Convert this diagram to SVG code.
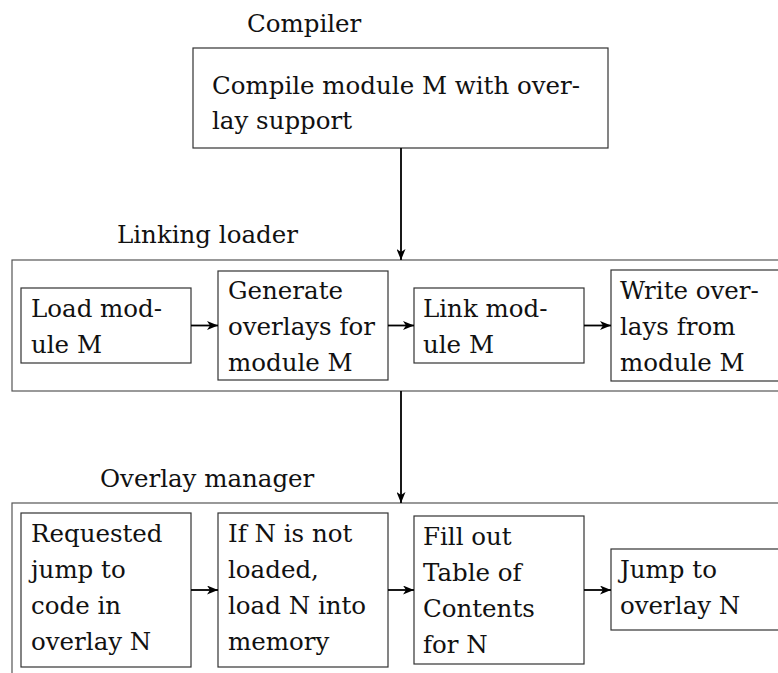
<svg xmlns="http://www.w3.org/2000/svg" width="778" height="673" viewBox="0 0 778 673">
<style>
text{font-family:"DejaVu Serif","Liberation Serif",serif;font-size:24.5px;fill:#111}
.box{fill:#fff;stroke:#333;stroke-width:1.2}
.outer{fill:none;stroke:#555;stroke-width:1.2}
.conn{stroke:#000;stroke-width:1.8;fill:none;marker-end:url(#ah)}
</style>
<defs>
<marker id="ah" viewBox="0 0 11 9" refX="11" refY="4.5" markerWidth="11" markerHeight="9" markerUnits="userSpaceOnUse" orient="auto">
<path d="M0,0 L11,4.5 L0,9 L3,4.5 Z" fill="#000"/>
</marker>
</defs>
<rect class="outer" x="12" y="260" width="800" height="131"/>
<rect class="outer" x="12" y="503" width="800" height="200"/>
<g id="label-compiler"><text x="247" y="32">Compiler</text></g>
<g id="label-linking"><text x="117" y="243">Linking loader</text></g>
<g id="label-overlay"><text x="100" y="487">Overlay manager</text></g>
<g id="compile">
<rect class="box" x="193" y="48" width="415" height="100"/>
<text x="212" y="94">Compile module M with over-</text>
<text x="212" y="129">lay support</text>
</g>
<g id="load">
<rect class="box" x="21" y="288" width="170" height="75"/>
<text x="31" y="317">Load mod-</text>
<text x="31" y="353">ule M</text>
</g>
<g id="generate">
<rect class="box" x="218" y="271" width="170" height="109"/>
<text x="228" y="299">Generate</text>
<text x="228" y="335">overlays for</text>
<text x="228" y="371">module M</text>
</g>
<g id="link">
<rect class="box" x="414" y="288" width="170" height="75"/>
<text x="423" y="317">Link mod-</text>
<text x="423" y="353">ule M</text>
</g>
<g id="write">
<rect class="box" x="611" y="270" width="200" height="111"/>
<text x="620" y="299">Write over-</text>
<text x="620" y="335">lays from</text>
<text x="620" y="371">module M</text>
</g>
<g id="requested">
<rect class="box" x="21" y="513" width="170" height="154"/>
<text x="31" y="542">Requested</text>
<text x="31" y="578">jump to</text>
<text x="31" y="614">code in</text>
<text x="31" y="650">overlay N</text>
</g>
<g id="ifn">
<rect class="box" x="218" y="513" width="170" height="154"/>
<text x="228" y="542">If N is not</text>
<text x="228" y="578">loaded,</text>
<text x="228" y="614">load N into</text>
<text x="228" y="650">memory</text>
</g>
<g id="fill">
<rect class="box" x="414" y="516" width="170" height="148"/>
<text x="423" y="545">Fill out</text>
<text x="423" y="581">Table of</text>
<text x="423" y="617">Contents</text>
<text x="423" y="653">for N</text>
</g>
<g id="jump">
<rect class="box" x="611" y="549" width="200" height="81"/>
<text x="620" y="578">Jump to</text>
<text x="620" y="614">overlay N</text>
</g>
<g id="connectors">
<line class="conn" x1="401" y1="148" x2="401" y2="260"/>
<line class="conn" x1="401" y1="391" x2="401" y2="503"/>
<line class="conn" x1="191" y1="325.5" x2="218" y2="325.5"/>
<line class="conn" x1="388" y1="325.5" x2="414" y2="325.5"/>
<line class="conn" x1="584" y1="325.5" x2="611" y2="325.5"/>
<line class="conn" x1="191" y1="590" x2="218" y2="590"/>
<line class="conn" x1="388" y1="590" x2="414" y2="590"/>
<line class="conn" x1="584" y1="590" x2="611" y2="590"/>
</g>
</svg>
